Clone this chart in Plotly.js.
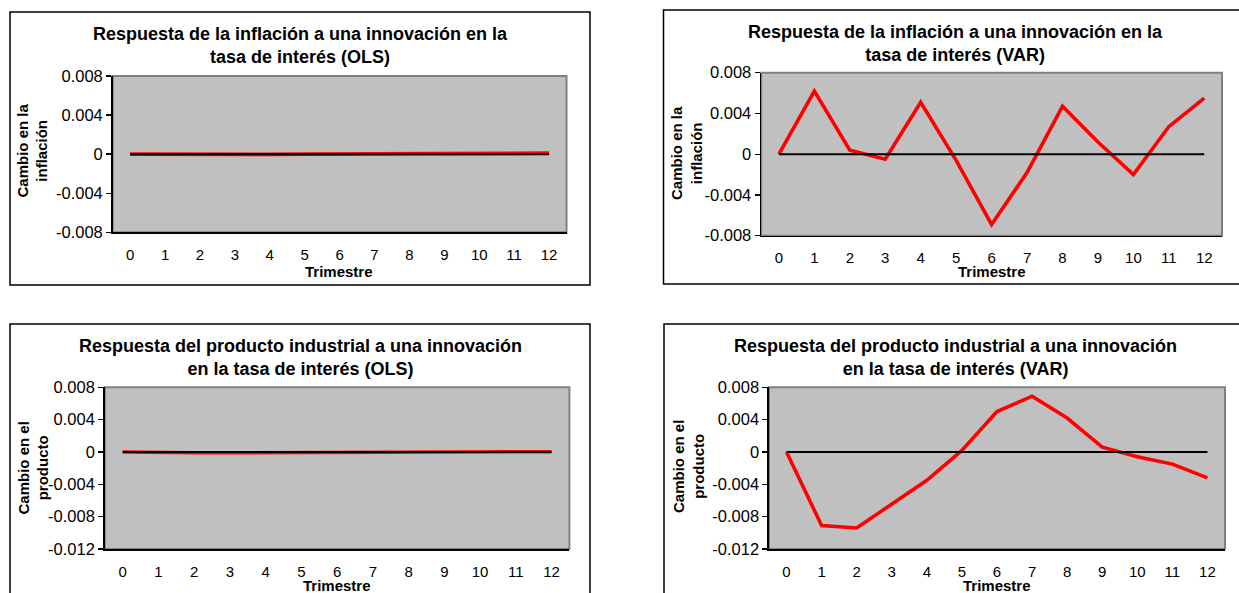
<!DOCTYPE html>
<html>
<head>
<meta charset="utf-8">
<script src="https://cdn.plot.ly/plotly-3.0.1.min.js"></script>
<style>
  html, body { margin: 0; padding: 0; background: #ffffff; }
  #chart { width: 1239px; height: 593px; }
</style>
</head>
<body>
<div id="chart"></div>
<script>
// Impulse responses to an interest-rate innovation, quarters 0..12
const trimestres = [0, 1, 2, 3, 4, 5, 6, 7, 8, 9, 10, 11, 12];

const inflacionOLS = [0, -0.00002, -0.00004, -0.00004, -0.00002, 0, 0.00001, -0.00003, 0, 0, 0, 0.00008, 0.0001];
const inflacionVAR = [0, 0.0062, 0.0004, -0.0005, 0.0051, -0.0006, -0.0069, -0.0018, 0.0047, 0.0012, -0.002, 0.0027, 0.0055];
const productoOLS  = [0, -0.00008, -0.0001, -0.0001, -0.00008, -0.00002, 0.00002, 0.00004, 0.00008, 0.00008, 0.00005, 0.00003, 0.00002];
const productoVAR  = [0, -0.0091, -0.0094, -0.0064, -0.0035, 0.0002, 0.005, 0.0069, 0.0042, 0.0006, -0.0006, -0.0015, -0.0032];
const ceros        = [0, 0, 0, 0, 0, 0, 0, 0, 0, 0, 0, 0, 0];

const ticksInflacion = [0.008, 0.004, 0, -0.004, -0.008];
const textoInflacion = ["0.008", "0.004", "0", "-0.004", "-0.008"];
const ticksProducto  = [0.008, 0.004, 0, -0.004, -0.008, -0.012];
const textoProducto  = ["0.008", "0.004", "0", "-0.004", "-0.008", "-0.012"];

const titulos = [
  "Respuesta de la inflación a una innovación en la<br>tasa de interés (OLS)",
  "Respuesta de la inflación a una innovación en la<br>tasa de interés (VAR)",
  "Respuesta del producto industrial a una innovación<br>en la tasa de interés (OLS)",
  "Respuesta del producto industrial a una innovación<br>en la tasa de interés (VAR)"
];
const titulosY = [
  "Cambio en la<br>inflación",
  "Cambio en la<br>inflación",
  "Cambio en el<br>producto",
  "Cambio en el<br>producto"
];
const tituloX = "Trimestre";

// Page geometry (pixels)
const W = 1239, H = 593;
const FONT = "Liberation Sans, Arial, Helvetica, sans-serif";
const px = v => v / W;
const py = v => 1 - v / H;

const panels = [
  { series: inflacionOLS, tv: ticksInflacion, tt: textoInflacion, range: [-0.008, 0.008],
    plot: [112.7, 566.5, 76, 232.3], box: [10, 590, 12, 285],
    title: [300, 45], ytitle: [32.5, 151], xtitle: [339, 272] },
  { series: inflacionVAR, tv: ticksInflacion, tt: textoInflacion, range: [-0.008, 0.008],
    plot: [761.2, 1222, 72.7, 235.7], box: [663.5, 1250, 10, 284],
    title: [955, 43.5], ytitle: [686, 153], xtitle: [992, 272] },
  { series: productoOLS, tv: ticksProducto, tt: textoProducto, range: [-0.012, 0.008],
    plot: [104.8, 569.4, 387.3, 549], box: [10, 590, 324, 600],
    title: [300, 357], ytitle: [32.5, 468], xtitle: [337, 585] },
  { series: productoVAR, tv: ticksProducto, tt: textoProducto, range: [-0.012, 0.008],
    plot: [769, 1225, 387.3, 549], box: [664, 1250, 324, 600],
    title: [955, 357], ytitle: [688, 467], xtitle: [997, 585] }
];

const data = [];
const layout = {
  width: W, height: H,
  margin: { l: 0, r: 0, t: 0, b: 0 },
  paper_bgcolor: "#ffffff",
  plot_bgcolor: "#c0c0c0",
  showlegend: false,
  font: { family: FONT, color: "#000000" },
  shapes: [],
  annotations: []
};

panels.forEach((p, i) => {
  const n = i === 0 ? "" : String(i + 1);
  const xa = "x" + n, ya = "y" + n;

  data.push({
    x: trimestres, y: p.series, xaxis: xa, yaxis: ya,
    type: "scatter", mode: "lines",
    line: { color: "#ff0000", width: 3.6 },
    hoverinfo: "skip"
  });
  data.push({
    x: trimestres, y: ceros, xaxis: xa, yaxis: ya,
    type: "scatter", mode: "lines",
    line: { color: "#000000", width: 2 },
    hoverinfo: "skip"
  });

  layout["xaxis" + n] = {
    domain: [px(p.plot[0]), px(p.plot[1])],
    anchor: ya,
    range: [-0.5, 12.5],
    tickvals: trimestres,
    ticktext: trimestres.map(String),
    ticks: "", ticklabelstandoff: 8,
    tickfont: { family: FONT, size: 15, color: "#000000" },
    showline: true, linecolor: "#000000", linewidth: 1.6,
    showgrid: false, zeroline: false, fixedrange: true
  };
  layout["yaxis" + n] = {
    domain: [py(p.plot[3]), py(p.plot[2])],
    anchor: xa,
    range: p.range,
    tickvals: p.tv, ticktext: p.tt,
    ticks: "outside", ticklen: 5, tickwidth: 1.4, tickcolor: "#000000",
    tickfont: { family: FONT, size: 16.5, color: "#000000" },
    showline: true, linecolor: "#000000", linewidth: 1.6,
    showgrid: false, zeroline: false, fixedrange: true
  };

  // grey plot-area frame (top and right edges show)
  layout.shapes.push({
    type: "rect", xref: xa + " domain", yref: ya + " domain",
    x0: 0, x1: 1, y0: 0, y1: 1,
    line: { color: "#808080", width: 2 }, layer: "below"
  });
  // chart frame
  layout.shapes.push({
    type: "rect", xref: "paper", yref: "paper",
    x0: px(p.box[0]), x1: px(p.box[1]), y0: py(p.box[3]), y1: py(p.box[2]),
    line: { color: "#000000", width: 1.5 }, fillcolor: "rgba(0,0,0,0)"
  });

  layout.annotations.push({
    xref: "paper", yref: "paper", x: px(p.title[0]), y: py(p.title[1]),
    xanchor: "center", yanchor: "middle", showarrow: false,
    text: "<b>" + titulos[i].replace("<br>", "</b><br><b>") + "</b>",
    font: { family: FONT, size: 18, color: "#000000" }
  });
  layout.annotations.push({
    xref: "paper", yref: "paper", x: px(p.ytitle[0]), y: py(p.ytitle[1]),
    xanchor: "center", yanchor: "middle", showarrow: false, textangle: -90,
    text: "<b>" + titulosY[i].replace("<br>", "</b><br><b>") + "</b>",
    font: { family: FONT, size: 15, color: "#000000" }
  });
  layout.annotations.push({
    xref: "paper", yref: "paper", x: px(p.xtitle[0]), y: py(p.xtitle[1]),
    xanchor: "center", yanchor: "middle", showarrow: false,
    text: "<b>" + tituloX + "</b>",
    font: { family: FONT, size: 15, color: "#000000" }
  });
});

Plotly.newPlot("chart", data, layout, { staticPlot: true, displayModeBar: false });
</script>
</body>
</html>
